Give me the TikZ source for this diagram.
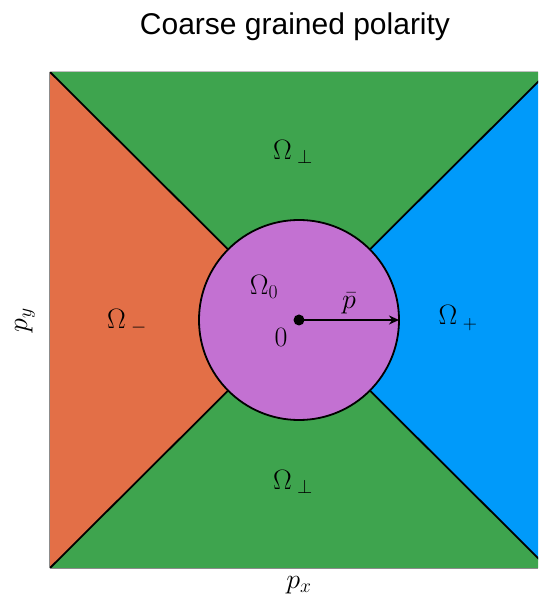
\RequirePackage{fix-cm}
\documentclass[tikz,border=0pt]{standalone}
\usepackage{fontspec}
\newfontfamily\titlefont{Liberation Sans}
\usetikzlibrary{arrows.meta}
\definecolor{cBlue}{HTML}{009AFA}
\definecolor{cOrange}{HTML}{E36F47}
\definecolor{cGreen}{HTML}{3EA44E}
\definecolor{cPurple}{HTML}{C371D2}
\tikzset{
	border/.style   ={draw=black, line width=1.8pt},
	spine/.style    ={draw=gray!90, line width=1pt},
	disk/.style     ={circle, draw=black, line width=1.8pt, fill=cPurple, minimum size=200pt, inner sep=0pt, outer sep=0pt},
	lbl/.style      ={font=\fontsize{28}{32}\selectfont, inner sep=0pt},
	radarrow/.style ={-{Stealth[length=10pt, width=9pt]}, line width=1.8pt},
}

\begin{document}
\begin{tikzpicture}[x=1pt, y=1pt]
	\useasboundingbox (-299,-282) rectangle (239,320);
	\coordinate (O) at (0,0);
	\coordinate (tl) at (-249,248);
	\coordinate (tr) at (249,248);
	\coordinate (br) at (249,-248);
	\coordinate (bl) at (-249,-248);
	% the four sectors
	\begin{scope}
		\clip (-249,-248) rectangle (239,248);
		\fill[cGreen]  (tl) -- (tr) -- (O) -- cycle;
		\fill[cGreen]  (bl) -- (br) -- (O) -- cycle;
		\fill[cOrange] (tl) -- (bl) -- (O) -- cycle;
		\fill[cBlue]   (tr) -- (br) -- (O) -- cycle;
		\draw[border] (tl) -- (O) -- (br);
		\draw[border] (tr) -- (O) -- (bl);
	\end{scope}
	% axes
	\draw[spine] (tl) -- (bl);
	\draw[spine] (bl) -- (239,-248);
	\draw[spine, draw=gray!50] (tl) -- (239,248);
	% central disk
	\node[disk] (ball) at (O) {};
	\fill (O) circle (5.5pt);
	\draw[radarrow] (O) -- (ball.east);
	% labels
	\node[lbl] (top)   at (-6,168)   {$\Omega_{\;\perp}$};
	\node[lbl] (bot)   at (-6,-162)  {$\Omega_{\;\perp}$};
	\node[lbl] (minus) at (-172,-2)  {$\Omega_{\;-}$};
	\node[lbl] (plus)  at (159,2)    {$\Omega_{\;+}$};
	\node[lbl] (zero)  at (-35,33)   {$\Omega_0$};
	\node[lbl] (orig)  at (-18,-17)  {$0$};
	\node[lbl] (pbar)  at (50,17)    {$\bar{p}$};
	\node[lbl, rotate=90] (ylab) at (-274,0) {$p_y$};
	\node[lbl] (xlab)  at (0,-265)   {$p_x$};
	\node[inner sep=0pt, font=\titlefont\fontsize{30}{34}\selectfont] (title) at (-4,293) {Coarse grained polarity};
\end{tikzpicture}
\end{document}
